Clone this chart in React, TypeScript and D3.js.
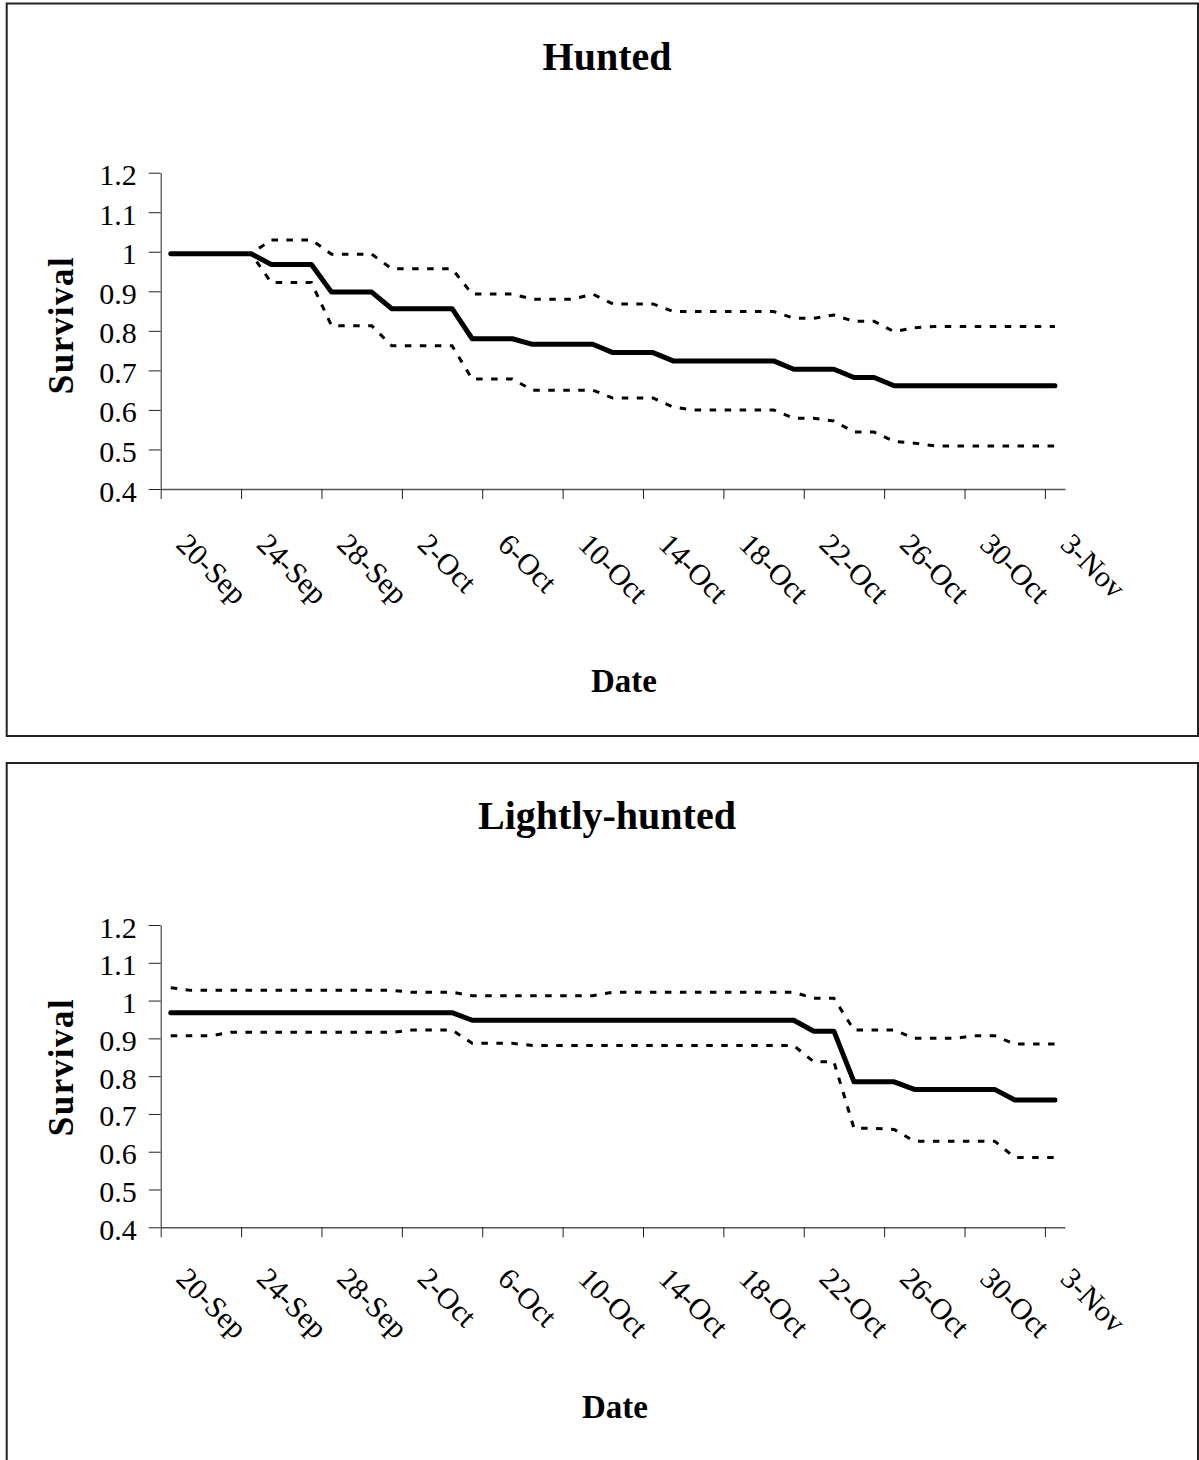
import React, { useEffect, useRef } from 'react';
import * as d3 from 'd3';

// daily categories from 20-Sep to 3-Nov (45 days), labelled every 4th day
const dayCount = 45;
const dateLabels = ['20-Sep', '24-Sep', '28-Sep', '2-Oct', '6-Oct', '10-Oct', '14-Oct', '18-Oct', '22-Oct', '26-Oct', '30-Oct', '3-Nov'];
const yTicks = [0.4, 0.5, 0.6, 0.7, 0.8, 0.9, 1.0, 1.1, 1.2];
const yTickLabels = ['0.4', '0.5', '0.6', '0.7', '0.8', '0.9', '1', '1.1', '1.2'];

// Hunted
const huntedSurvival = [
  0.995, 0.995, 0.995, 0.995, 0.995, 0.968, 0.968, 0.968, 0.898, 0.898,
  0.898, 0.856, 0.856, 0.856, 0.856, 0.78, 0.78, 0.78, 0.766, 0.766,
  0.766, 0.766, 0.745, 0.745, 0.745, 0.724, 0.724, 0.724, 0.724, 0.724,
  0.724, 0.703, 0.703, 0.703, 0.682, 0.682, 0.661, 0.661, 0.661, 0.661,
  0.661, 0.661, 0.661, 0.661, 0.661,
];
const huntedUpper = [
  0.995, 0.995, 0.995, 0.995, 0.995, 1.03, 1.03, 1.03, 0.994, 0.994,
  0.994, 0.957, 0.957, 0.957, 0.957, 0.893, 0.893, 0.893, 0.88, 0.88,
  0.88, 0.893, 0.868, 0.868, 0.868, 0.849, 0.849, 0.849, 0.849, 0.849,
  0.849, 0.832, 0.832, 0.84, 0.824, 0.824, 0.798, 0.808, 0.811, 0.811,
  0.811, 0.811, 0.811, 0.811, 0.811,
];
const huntedLower = [
  0.995, 0.995, 0.995, 0.995, 0.995, 0.922, 0.922, 0.922, 0.813, 0.813,
  0.813, 0.762, 0.762, 0.762, 0.762, 0.678, 0.678, 0.678, 0.65, 0.65,
  0.65, 0.65, 0.63, 0.63, 0.63, 0.607, 0.6, 0.6, 0.6, 0.6,
  0.6, 0.579, 0.579, 0.572, 0.544, 0.544, 0.52, 0.516, 0.509, 0.509,
  0.509, 0.509, 0.509, 0.509, 0.509,
];

// Lightly-hunted
const lightSurvival = [
  0.968, 0.968, 0.968, 0.968, 0.968, 0.968, 0.968, 0.968, 0.968, 0.968,
  0.968, 0.968, 0.968, 0.968, 0.968, 0.948, 0.948, 0.948, 0.948, 0.948,
  0.948, 0.948, 0.948, 0.948, 0.948, 0.948, 0.948, 0.948, 0.948, 0.948,
  0.948, 0.948, 0.919, 0.919, 0.785, 0.785, 0.785, 0.765, 0.765, 0.765,
  0.765, 0.765, 0.737, 0.737, 0.737,
];
const lightUpper = [
  1.034, 1.027, 1.027, 1.027, 1.027, 1.027, 1.027, 1.027, 1.027, 1.027,
  1.027, 1.027, 1.022, 1.022, 1.022, 1.013, 1.013, 1.013, 1.013, 1.013,
  1.013, 1.013, 1.022, 1.022, 1.022, 1.022, 1.022, 1.022, 1.022, 1.022,
  1.022, 1.022, 1.006, 1.006, 0.922, 0.922, 0.922, 0.9, 0.9, 0.9,
  0.907, 0.907, 0.885, 0.885, 0.885,
];
const lightLower = [
  0.907, 0.907, 0.907, 0.916, 0.916, 0.916, 0.916, 0.916, 0.916, 0.916,
  0.916, 0.916, 0.922, 0.922, 0.922, 0.887, 0.887, 0.887, 0.881, 0.881,
  0.881, 0.881, 0.881, 0.881, 0.881, 0.881, 0.881, 0.881, 0.881, 0.881,
  0.881, 0.881, 0.838, 0.838, 0.662, 0.662, 0.659, 0.628, 0.628, 0.628,
  0.628, 0.628, 0.585, 0.585, 0.585,
];

const FONT = '"Liberation Serif", "Times New Roman", serif';

const panels = [
  {
    title: 'Hunted', survival: huntedSurvival, upper: huntedUpper, lower: huntedLower,
    frameTop: 3.5, frameBottom: 736, plotTop: 172.7, plotBottom: 489,
    titleY: 70, dateX: 624, dateY: 692, survivalY: 325, labelDy: 57,
  },
  {
    title: 'Lightly-hunted', survival: lightSurvival, upper: lightUpper, lower: lightLower,
    frameTop: 763, frameBottom: 1470, plotTop: 925, plotBottom: 1227.3,
    titleY: 829, dateX: 615, dateY: 1418, survivalY: 1067, labelDy: 53,
  },
];

const App = () => {
  const svgRef = useRef<SVGSVGElement>(null);

  useEffect(() => {
    const svg = d3.select(svgRef.current);
    svg.selectAll('*').remove();

    const x = d3.scaleLinear().domain([0, dayCount]).range([160.7, 1065]);

    panels.forEach(p => {
      const g = svg.append('g');

      // chart frame
      g.append('rect')
        .attr('x', 6.7)
        .attr('y', p.frameTop)
        .attr('width', 1198 - 6.7)
        .attr('height', p.frameBottom - p.frameTop)
        .attr('fill', 'white')
        .attr('stroke', '#222')
        .attr('stroke-width', 2);

      const y = d3.scaleLinear().domain([0.4, 1.2]).range([p.plotBottom, p.plotTop]);

      // y axis
      const yAxis = g.append('g')
        .attr('transform', `translate(${x(0)},0)`)
        .call(d3.axisLeft(y)
          .tickValues(yTicks)
          .tickSize(12)
          .tickSizeOuter(0)
          .tickPadding(12)
          .tickFormat((_d, i) => yTickLabels[i]));
      yAxis.attr('font-family', FONT).attr('font-size', 30);
      yAxis.selectAll('line').attr('stroke', '#222');
      yAxis.select('.domain').attr('stroke', '#222');
      yAxis.selectAll('text').attr('fill', '#000').attr('dy', '0.4em');

      // x axis, ticks on day boundaries every 4 days
      const xAxis = g.append('g')
        .attr('transform', `translate(0,${p.plotBottom})`)
        .call(d3.axisBottom(x)
          .tickValues(d3.range(0, dayCount, 4))
          .tickSize(10)
          .tickSizeOuter(0)
          .tickFormat(() => ''));
      xAxis.select('.domain').attr('stroke', '#555').attr('stroke-width', 1.5);
      xAxis.selectAll('line').attr('stroke', '#222');

      dateLabels.forEach((label, k) => {
        g.append('text')
          .attr('transform', `translate(${x(k * 4 + 0.5) + 4},${p.plotBottom + p.labelDy}) rotate(45)`)
          .attr('font-family', FONT)
          .attr('font-size', 30)
          .attr('fill', '#000')
          .text(label);
      });

      const line = d3.line<number>()
        .x((_d, i) => x(i + 0.5))
        .y(d => y(d));

      [p.upper, p.lower].forEach(band => {
        g.append('path')
          .datum(band)
          .attr('fill', 'none')
          .attr('stroke', '#000')
          .attr('stroke-width', 3)
          .attr('stroke-dasharray', '6.5 8.5')
          .attr('d', line);
      });

      g.append('path')
        .datum(p.survival)
        .attr('fill', 'none')
        .attr('stroke', '#000')
        .attr('stroke-width', 5)
        .attr('stroke-linecap', 'round')
        .attr('stroke-linejoin', 'round')
        .attr('d', line);

      // titles
      g.append('text')
        .attr('x', 607)
        .attr('y', p.titleY)
        .attr('text-anchor', 'middle')
        .attr('font-family', FONT)
        .attr('font-weight', 'bold')
        .attr('font-size', 40)
        .text(p.title);

      g.append('text')
        .attr('x', p.dateX)
        .attr('y', p.dateY)
        .attr('text-anchor', 'middle')
        .attr('font-family', FONT)
        .attr('font-weight', 'bold')
        .attr('font-size', 33)
        .text('Date');

      g.append('text')
        .attr('transform', `translate(73,${p.survivalY}) rotate(-90)`)
        .attr('text-anchor', 'middle')
        .attr('font-family', FONT)
        .attr('font-weight', 'bold')
        .attr('font-size', 35)
        .attr('letter-spacing', 1.5)
        .text('Survival');
    });
  }, []);

  return (
    <svg
      ref={svgRef}
      width={1199}
      height={1460}
      style={{ position: 'absolute', left: 0, top: 0, background: 'white' }}
    />
  );
};

export default App;
